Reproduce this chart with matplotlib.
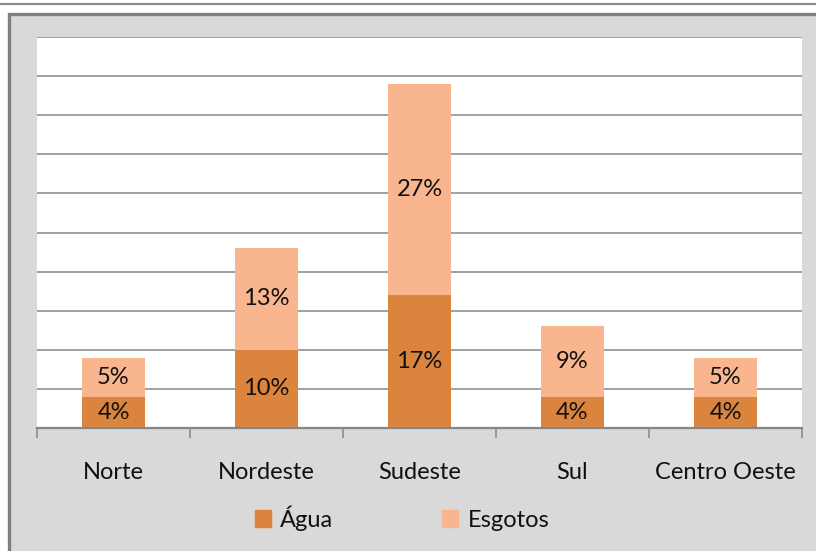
import numpy as np
import matplotlib.pyplot as plt
from matplotlib.patches import Rectangle, Patch
from matplotlib.lines import Line2D

plt.rcParams['font.family'] = ['Lato', 'DejaVu Sans']

regioes = ['Norte', 'Nordeste', 'Sudeste', 'Sul', 'Centro Oeste']
agua = [4, 10, 17, 4, 4]
esgotos = [5, 13, 27, 9, 5]

cor_agua = '#DB843D'
cor_esgotos = '#F9B58D'
fundo = '#D9D9D9'
cinza = '#868686'
fs = 17

W, H = 816, 551
fig = plt.figure(figsize=(W / 100, H / 100), dpi=100)
fig.patch.set_facecolor('white')

# thin rule across the top and the grey chart frame
fig.add_artist(Line2D([0, 1], [1 - 4 / H, 1 - 4 / H], color='#8C8C8C', lw=1.6,
                      transform=fig.transFigure))
fig.add_artist(Rectangle((9 / W, -0.05), 1.1, 1.05 - 14 / H, transform=fig.transFigure,
                         facecolor=fundo, edgecolor='#7F7F7F', lw=2.4, zorder=0))

ax = fig.add_axes([37 / W, (H - 428) / H, (802 - 37) / W, (428 - 37) / H])
ax.set_facecolor('white')

x = np.arange(len(regioes))
b1 = ax.bar(x, agua, width=0.41, color=cor_agua, zorder=3)
b2 = ax.bar(x, esgotos, width=0.41, bottom=agua, color=cor_esgotos, zorder=3)
ax.bar_label(b1, labels=[f'{v}%' for v in agua], label_type='center', fontsize=fs,
             color='#111111')
ax.bar_label(b2, labels=[f'{v}%' for v in esgotos], label_type='center', fontsize=fs,
             color='#111111')

ax.set_xlim(-0.5, len(regioes) - 0.5)
ax.set_ylim(0, 50)
ax.set_yticks(np.arange(5, 51, 5))
ax.tick_params(axis='y', left=False, labelleft=False)
ax.grid(axis='y', color=cinza, lw=1.1, zorder=1)

for s in ['left', 'right', 'top']:
    ax.spines[s].set_visible(False)
ax.spines['bottom'].set_color(cinza)
ax.spines['bottom'].set_linewidth(1.6)
ax.spines['bottom'].set_zorder(4)

# boundaries between categories carry the tick marks, names sit in between
ax.set_xticks(np.arange(-0.5, len(regioes)), labels=[])
ax.tick_params(axis='x', which='major', direction='out', length=7, width=1.1, color=cinza)
ax.set_xticks(x, labels=regioes, minor=True)
ax.tick_params(axis='x', which='minor', length=0, pad=24.5, labelsize=fs,
               labelcolor='#111111')

handles = [Patch(color=cor_agua, label='Água'), Patch(color=cor_esgotos, label='Esgotos')]
fig.legend(handles=handles, loc='center', bbox_to_anchor=(402 / W, (H - 518) / H),
           ncol=2, frameon=False, fontsize=fs, labelcolor='#111111',
           handlelength=0.68, handleheight=0.68, handletextpad=0.4, columnspacing=4.6)

fig.savefig('out.png', dpi=100, facecolor=fig.get_facecolor())
